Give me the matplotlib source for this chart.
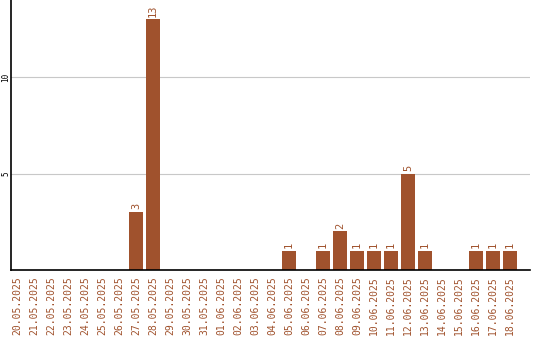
import matplotlib
matplotlib.use("Agg")
import matplotlib.pyplot as plt

# dates and daily counts
dates = ['20.05.2025', '21.05.2025', '22.05.2025', '23.05.2025', '24.05.2025',
         '25.05.2025', '26.05.2025', '27.05.2025', '28.05.2025', '29.05.2025',
         '30.05.2025', '31.05.2025', '01.06.2025', '02.06.2025', '03.06.2025',
         '04.06.2025', '05.06.2025', '06.06.2025', '07.06.2025', '08.06.2025',
         '09.06.2025', '10.06.2025', '11.06.2025', '12.06.2025', '13.06.2025',
         '14.06.2025', '15.06.2025', '16.06.2025', '17.06.2025', '18.06.2025']
counts = [0, 0, 0, 0, 0, 0, 0, 3, 13, 0,
          0, 0, 0, 0, 0, 0, 1, 0, 1, 2,
          1, 1, 1, 5, 1, 0, 0, 1, 1, 1]
yticks = [5, 10]

color = '#A0522D'
font = 'DejaVu Sans Mono'

fig = plt.figure(figsize=(5.4, 3.4), dpi=100)
ax = fig.add_axes([11 / 540, 70 / 340, 519 / 540, 270 / 340])

x = list(range(len(dates)))
ax.bar(x, counts, width=0.82, color=color, zorder=2)

# value labels above non-zero bars
for xi, c in zip(x, counts):
    if c > 0:
        ax.annotate(str(c), (xi, c), xytext=(0, 2), textcoords='offset points',
                    ha='center', va='bottom', rotation=90, color=color,
                    fontsize=7.5, family=font)

ax.set_xlim(-0.35, 30.18)
ax.set_ylim(0, 14.0)
ax.set_xticks(x)
ax.set_xticklabels(dates, rotation=90, color=color, fontsize=7, family=font)
ax.tick_params(axis='x', length=0, pad=4.5)
ax.set_yticks(yticks)
ax.set_yticklabels([str(t) for t in yticks], rotation=90, va='center',
                   fontsize=5.5, family=font)
ax.tick_params(axis='y', length=0, pad=0.5)
ax.grid(axis='y', color='#c8c8c8', linewidth=0.8, zorder=0)

for s in ['top', 'right']:
    ax.spines[s].set_visible(False)
for s in ['left', 'bottom']:
    ax.spines[s].set_linewidth(1.2)

fig.savefig('out.png', dpi=100)
